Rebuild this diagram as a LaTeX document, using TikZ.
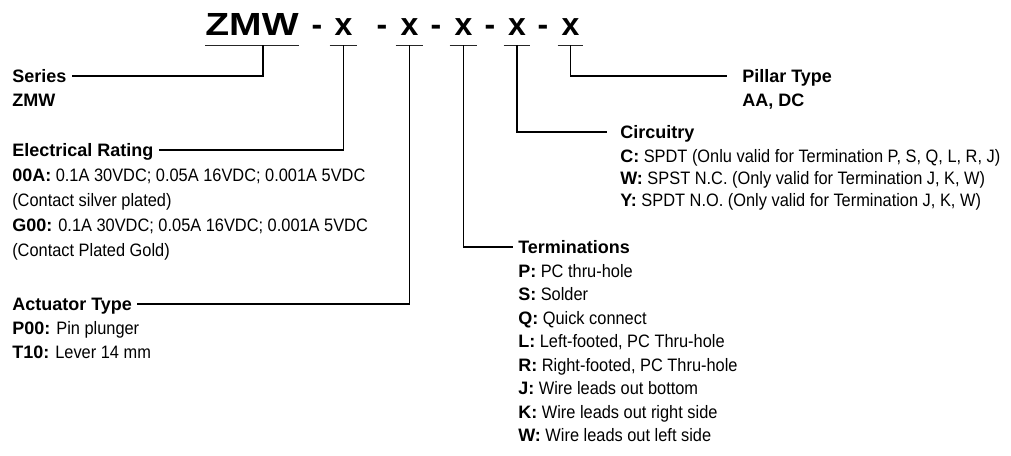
\documentclass[tikz,border=0pt]{standalone}
\usepackage{fontspec}
\usepackage{graphicx}
\setmainfont{Liberation Sans}
\newfontfamily\condf{Liberation Sans}[FakeStretch=0.91]
\newcommand{\kb}[1]{{\normalfont\bfseries #1}}
\tikzset{
  titletxt/.style={font=\fontsize{24}{28}\selectfont\bfseries, inner sep=0pt, text depth=7.5pt, anchor=base},
  head/.style={font=\fontsize{13.5}{16}\selectfont\bfseries, inner xsep=3.75pt, inner ysep=0pt, text height=9.75pt, text depth=0pt, anchor=west},
  item/.style={font=\fontsize{13.5}{16}\selectfont\condf, inner sep=0pt, anchor=base west},
  uline/.style={line width=1.1pt, draw=black!85},
  conn/.style={line width=0.8pt, draw=black},
}
\begin{document}
\begin{tikzpicture}[x=0.75pt, y=-0.75pt]
\useasboundingbox (0,0) rectangle (1011,455);
% title
\node[titletxt, minimum width=69pt] (zmw) at (252,35) {\scalebox{1.22}[1]{ZMW}};
\node[titletxt] (d1) at (317,35) {-};
\node[titletxt, minimum width=20.25pt] (x1) at (343.5,35) {x};
\node[titletxt] (d2) at (382,35) {-};
\node[titletxt, minimum width=20.25pt] (x2) at (409.5,35) {x};
\node[titletxt] (d3) at (436,35) {-};
\node[titletxt, minimum width=20.25pt] (x3) at (463.5,35) {x};
\node[titletxt] (d4) at (490,35) {-};
\node[titletxt, minimum width=19.5pt] (x4) at (517,35) {x};
\node[titletxt] (d5) at (543,35) {-};
\node[titletxt, minimum width=19pt] (x5) at (570.5,35) {x};
\foreach \n in {zmw,x1,x2,x3,x4,x5}{\draw[uline] (\n.south west) -- (\n.south east);}
% series
\node[head] (series) at (7,76) {Series};
\node[item] (seriesv) at (12,106.5) {\kb{ZMW}};
% electrical rating
\node[head] (elec) at (7,150) {Electrical Rating};
\node[item] (e1) at (12,181.5) {\kb{00A:} 0.1A 30VDC; 0.05A 16VDC; 0.001A 5VDC};
\node[item] (e2) at (12,206.5) {(Contact silver plated)};
\node[item] (e3) at (12,231.5) {\kb{G00:} 0.1A 30VDC; 0.05A 16VDC; 0.001A 5VDC};
\node[item] (e4) at (12,256.5) {(Contact Plated Gold)};
% actuator
\node[head] (act) at (7,304) {Actuator Type};
\node[item] (a1) at (12,334.5) {\kb{P00:} Pin plunger};
\node[item] (a2) at (12,358.5) {\kb{T10:} Lever 14 mm};
% terminations
\node[head] (term) at (513,247) {Terminations};
\node[item] (t1) at (518,277) {\kb{P:} PC thru-hole};
\node[item] (t2) at (518,300.5) {\kb{S:} Solder};
\node[item] (t3) at (518,324) {\kb{Q:} Quick connect};
\node[item] (t4) at (518,347.5) {\kb{L:} Left-footed, PC Thru-hole};
\node[item] (t5) at (518,371) {\kb{R:} Right-footed, PC Thru-hole};
\node[item] (t6) at (518,394.5) {\kb{J:} Wire leads out bottom};
\node[item] (t7) at (518,418) {\kb{K:} Wire leads out right side};
\node[item] (t8) at (518,441.5) {\kb{W:} Wire leads out left side};
% circuitry
\node[head] (circ) at (615,132) {Circuitry};
\node[item] (c1) at (620,162) {\kb{C:} SPDT (Onlu valid for Termination P, S, Q, L, R, J)};
\node[item] (c2) at (620,184) {\kb{W:} SPST N.C. (Only valid for Termination J, K, W)};
\node[item] (c3) at (620,206) {\kb{Y:} SPDT N.O. (Only valid for Termination J, K, W)};
% pillar
\node[head] (pill) at (737,76) {Pillar Type};
\node[item] (pillv) at (742,106.5) {\kb{AA, DC}};
% connectors
\draw[conn] ([xshift=8.25pt]zmw.south) |- (series.east);
\draw[conn] (x1.south) |- (elec.east);
\draw[conn] (x2.south) |- (act.east);
\draw[conn] (x3.south) |- (term.west);
\draw[conn, shorten >=6pt] (x4.south) |- (circ.west);
\draw[conn, shorten >=7.5pt] (x5.south) |- (pill.west);
\end{tikzpicture}
\end{document}
